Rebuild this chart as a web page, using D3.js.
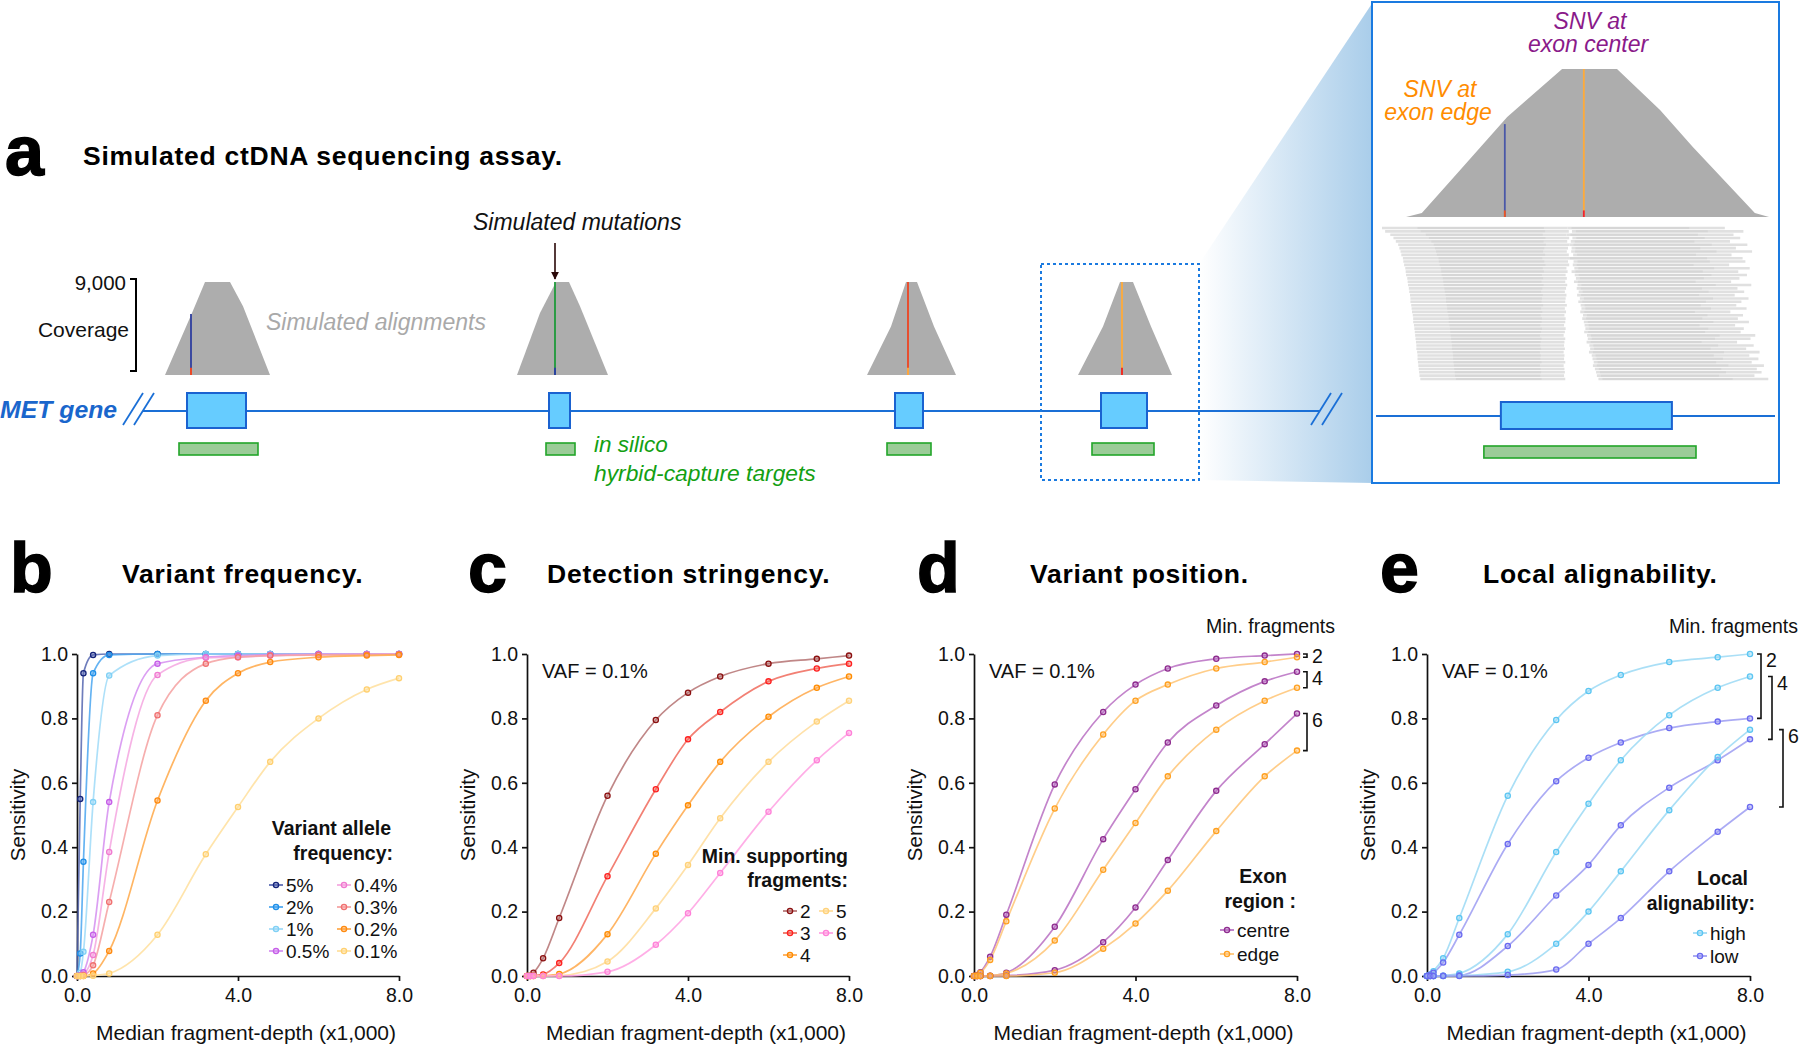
<!DOCTYPE html>
<html><head><meta charset="utf-8">
<script src="https://cdn.jsdelivr.net/npm/d3@7"></script>
<style>
body{margin:0;background:#fff;}
svg{display:block;font-family:"Liberation Sans",Arial,Helvetica,sans-serif;}
</style></head><body>
<svg id="fig" width="1800" height="1046"></svg>
<script>
// ---------------- DATA ----------------
const depthX = [0, 0.08, 0.16, 0.4, 0.8, 2.0, 3.2, 4.0, 4.8, 6.0, 7.2, 8.0];
const xTicks = [0, 4, 8];
const yTicks = [0, 0.2, 0.4, 0.6, 0.8, 1.0];

// panel b: variant allele frequency
const vafLabels = ["5%", "2%", "1%", "0.5%", "0.4%", "0.3%", "0.2%", "0.1%"];
const vaf5  = [0, 0.55, 0.94, 0.997, 1.0, 1.0, 1.0, 1.0, 1.0, 1.0, 1.0, 1.0];
const vaf2  = [0, 0.07, 0.355, 0.94, 0.997, 1.0, 1.0, 1.0, 1.0, 1.0, 1.0, 1.0];
const vaf1  = [0, 0.01, 0.075, 0.54, 0.933, 0.995, 1.0, 1.0, 1.0, 1.0, 1.0, 1.0];
const vaf05 = [0, 0.002, 0.012, 0.128, 0.54, 0.97, 0.99, 0.995, 0.998, 1.0, 1.0, 1.0];
const vaf04 = [0, 0.001, 0.005, 0.065, 0.385, 0.935, 0.988, 0.99, 0.995, 0.998, 0.999, 1.0];
const vaf03 = [0, 0, 0.002, 0.033, 0.23, 0.81, 0.97, 0.99, 0.995, 0.997, 0.998, 0.999];
const vaf02 = [0, 0, 0, 0.008, 0.078, 0.545, 0.855, 0.94, 0.975, 0.99, 0.995, 0.997];
const vaf01 = [0, 0, 0, 0.001, 0.008, 0.128, 0.378, 0.525, 0.665, 0.80, 0.89, 0.925];

// panel c: min supporting fragments
const fragLabels = ["2", "3", "4", "5", "6"];
const frag2 = [0, 0.001, 0.01, 0.055, 0.18, 0.56, 0.795, 0.88, 0.93, 0.97, 0.985, 0.995];
const frag3 = [0, 0, 0.001, 0.005, 0.04, 0.31, 0.58, 0.735, 0.82, 0.915, 0.955, 0.97];
const frag4 = [0, 0, 0, 0.001, 0.006, 0.13, 0.38, 0.53, 0.665, 0.805, 0.895, 0.93];
const frag5 = [0, 0, 0, 0, 0.001, 0.045, 0.21, 0.345, 0.49, 0.665, 0.79, 0.855];
const frag6 = [0, 0, 0, 0, 0, 0.013, 0.097, 0.195, 0.32, 0.51, 0.67, 0.755];

// panel d: exon region (centre / edge) for min fragments 2, 4, 6
const regionLabels = ["centre", "edge"];
const centre2 = [0, 0.003, 0.012, 0.06, 0.19, 0.595, 0.82, 0.905, 0.955, 0.985, 0.995, 1.0];
const edge2   = [0, 0.002, 0.01, 0.05, 0.17, 0.52, 0.75, 0.855, 0.905, 0.955, 0.975, 0.99];
const centre4 = [0, 0, 0, 0.001, 0.01, 0.153, 0.425, 0.58, 0.725, 0.84, 0.915, 0.945];
const edge4   = [0, 0, 0, 0.001, 0.008, 0.11, 0.33, 0.475, 0.62, 0.765, 0.855, 0.895];
const centre6 = [0, 0, 0, 0, 0.001, 0.018, 0.105, 0.213, 0.36, 0.575, 0.72, 0.815];
const edge6   = [0, 0, 0, 0, 0, 0.01, 0.085, 0.163, 0.265, 0.45, 0.62, 0.70];

// panel e: local alignability (high / low) for min fragments 2, 4, 6
const alignLabels = ["high", "low"];
const high2 = [0, 0.005, 0.015, 0.055, 0.18, 0.56, 0.795, 0.885, 0.935, 0.975, 0.99, 1.0];
const low2  = [0, 0.004, 0.01, 0.042, 0.128, 0.41, 0.605, 0.678, 0.725, 0.77, 0.79, 0.80];
const high4 = [0, 0, 0, 0.001, 0.008, 0.13, 0.385, 0.535, 0.67, 0.81, 0.895, 0.93];
const low4  = [0, 0, 0, 0.001, 0.002, 0.093, 0.25, 0.345, 0.468, 0.585, 0.67, 0.735];
const high6 = [0, 0, 0, 0, 0.001, 0.013, 0.1, 0.2, 0.325, 0.515, 0.68, 0.765];
const low6  = [0, 0, 0, 0, 0, 0.003, 0.02, 0.1, 0.18, 0.325, 0.448, 0.525];
const bracketLabels = ["2", "4", "6"];

// panel a: schematic (genomic units)
const geneSpan = [-7, 1170];
const exons   = [[37, 96], [399, 420], [745, 773], [951, 997]];
const targets = [[29, 108], [396, 425], [737, 781], [942, 1004]];
const peak1 = [[15, 0], [42, 6000], [55, 9000], [80, 9000], [93, 6650], [120, 0]];
const peak2 = [[367, 0], [390, 6000], [406, 9000], [419, 9000], [430, 6650], [458, 0]];
const peak3 = [[717, 0], [741, 4700], [756, 9000], [767, 9000], [784, 4700], [806, 0]];
const peak4 = [[928, 0], [953, 4700], [970, 9000], [983, 9000], [1001, 4700], [1022, 0]];
const mutPos   = [41, 405, 758, 972];
const mutDepth = [5900, 9000, 9000, 9000];
const mutColor = ["#2f3f9f", "#1f9a3a", "#ee4422", "#ffab3a"];
const mutTip   = ["#ff4a1a", "#2a3aa8", "#ffb040", "#ee2222"];
const coverageMax = 9000;

// inset (zoomed exon), units 0-100
const insetProfile = [[6.6, 0], [10.6, 240], [20.3, 2860], [32.2, 6080], [46.1, 9000], [60, 9000], [70.9, 6510], [79.2, 4260], [94.9, 240], [98.5, 0]];
const insetExon = [30.6, 73.9];
const insetTarget = [26.3, 80];
const insetGene = [-1, 100];
const insetMutPos = [31.6, 51.6];
const insetMutDepth = [5650, 9000];
const insetMutColor = ["#4a58a8", "#ffab3a"];
const insetMutTip = ["#ee5522", "#ee2233"];
const readStart = [0.5,1.3,2.6,3.4,4.0,4.6,4.9,5.2,5.4,5.8,5.9,6.1,6.4,6.5,6.6,6.9,7.0,7.1,7.3,7.4,7.6,7.7,7.7,7.9,8.0,8.1,8.3,8.4,8.4,8.6,8.7,8.8,8.9,9.0,9.1,9.2,9.2,9.4,9.5,9.5,9.6,9.7,9.8,9.9,10.0,10.2];
const readEnd = [87.3,92.0,89.5,91.2,88.6,93.0,90.1,94.2,89.0,91.8,92.5,88.4,93.6,90.7,92.9,91.0,88.9,94.0,90.5,92.2,89.8,93.3,91.5,90.2,92.8,88.7,91.9,90.6,93.4,89.9,92.1,91.3,95.0,93.8,90.4,94.6,92.7,96.1,93.5,95.8,94.1,97.2,95.4,96.6,94.8,98.3];
const gapStart = [47.5,47.8,47.2,47.9,47.4,48.0,47.6,47.3,47.8,47.1,47.6,47.9,47.2,47.5,47.0,47.3,46.9,47.4,47.1,46.8,47.2,47.0,46.9,47.3,46.8,47.1,46.7,47.0,46.9,46.6,47.0,46.8,46.5,46.9,46.7,46.6,46.8,46.5,46.7,46.6,46.9,46.5,46.7,46.8,46.6,46.9];
const gapEnd = [47.5,48.6,47.2,48.7,48.3,48.0,48.5,48.4,48.9,47.1,49.0,48.8,49.2,48.5,49.3,49.6,49.1,50.0,49.8,50.3,49.9,50.6,50.2,50.8,51.0,50.7,51.4,51.2,51.6,51.8,52.0,51.7,52.4,52.6,52.3,53.0,53.2,52.9,53.6,53.8,54.1,53.9,54.4,54.7,54.9,55.3];

// ---------------- DRAW ----------------
const svg = d3.select("#fig");
const FONT = '"Liberation Sans",Arial,Helvetica,sans-serif';

function txt(g, x, y, s, o = {}) {
  const t = g.append("text").attr("x", x).attr("y", y).text(s)
    .attr("font-size", o.size || 19).attr("fill", o.fill || "#111")
    .attr("text-anchor", o.anchor || "start");
  if (o.bold) t.attr("font-weight", "bold");
  if (o.italic) t.attr("font-style", "italic");
  if (o.ls) t.attr("letter-spacing", o.ls);
  if (o.heavy) t.attr("stroke", o.fill || "#000").attr("stroke-width", o.heavy);
  return t;
}

// ---- Panel a ----
const ga = svg.append("g");
const defs = svg.append("defs");
const grad = defs.append("linearGradient").attr("id", "zg").attr("x1", 0).attr("x2", 1).attr("y1", 0).attr("y2", 0);
grad.append("stop").attr("offset", 0).attr("stop-color", "#ffffff");
grad.append("stop").attr("offset", 1).attr("stop-color", "#a9cdea");
defs.append("marker").attr("id", "arr").attr("viewBox", "0 0 10 10").attr("refX", 9).attr("refY", 5)
  .attr("markerWidth", 5).attr("markerHeight", 5).attr("orient", "auto")
  .append("path").attr("d", "M0,0L10,5L0,10z").attr("fill", "#2a0808");

txt(ga, 5, 175, "a", {size: 70, bold: true, fill: "#000", heavy: 1.5});
txt(ga, 83, 165, "Simulated ctDNA sequencing assay.", {size: 26.5, bold: true, fill: "#000", ls: 0.75});

const aX = d3.scaleLinear().domain([0, 1170]).range([150, 1320]);
const covY = d3.scaleLinear().domain([0, coverageMax]).range([375, 282]);

// gradient zoom wedge
ga.append("path").attr("d", "M1199,264L1373,2L1373,483L1199,480Z").attr("fill", "url(#zg)");

// coverage bracket
ga.append("path").attr("d", `M130,${covY(coverageMax)-3}H136V${covY(0)-4}H130`).attr("fill", "none").attr("stroke", "#000").attr("stroke-width", 2);
txt(ga, 126, covY(coverageMax) + 8, "9,000", {size: 20.5, anchor: "end"});
txt(ga, 129, 337, "Coverage", {size: 21, anchor: "end"});

const area = d3.area().x(d => aX(d[0])).y0(covY(0)).y1(d => covY(d[1]));
[peak1, peak2, peak3, peak4].forEach(p => ga.append("path").attr("d", area(p)).attr("fill", "#adadad"));
mutPos.forEach((m, i) => {
  ga.append("line").attr("x1", aX(m)).attr("x2", aX(m)).attr("y1", covY(mutDepth[i])).attr("y2", covY(0))
    .attr("stroke", mutColor[i]).attr("stroke-width", 1.8);
  ga.append("line").attr("x1", aX(m)).attr("x2", aX(m)).attr("y1", covY(700)).attr("y2", covY(0))
    .attr("stroke", mutTip[i]).attr("stroke-width", 1.8);
});
txt(ga, 266, 330, "Simulated alignments", {size: 23, italic: true, fill: "#a9a9a9"});
txt(ga, 473, 230, "Simulated mutations", {size: 23, italic: true, fill: "#111"});
ga.append("line").attr("x1", aX(mutPos[1])).attr("x2", aX(mutPos[1])).attr("y1", 243).attr("y2", 279)
  .attr("stroke", "#2a0808").attr("stroke-width", 1.6).attr("marker-end", "url(#arr)");

// gene
const geneY = 411;
ga.append("line").attr("x1", aX(geneSpan[0])).attr("x2", aX(geneSpan[1])).attr("y1", geneY).attr("y2", geneY)
  .attr("stroke", "#1a6fd6").attr("stroke-width", 2);
[[123, 143], [134, 154], [1311, 1331], [1322, 1342]].forEach(s =>
  ga.append("line").attr("x1", s[0]).attr("y1", 425).attr("x2", s[1]).attr("y2", 393).attr("stroke", "#1a6fd6").attr("stroke-width", 1.8));
exons.forEach(e => ga.append("rect").attr("x", aX(e[0])).attr("y", 393).attr("width", aX(e[1]) - aX(e[0])).attr("height", 35)
  .attr("fill", "#66ccff").attr("stroke", "#1a62d0").attr("stroke-width", 2));
targets.forEach(e => ga.append("rect").attr("x", aX(e[0])).attr("y", 443).attr("width", aX(e[1]) - aX(e[0])).attr("height", 12)
  .attr("fill", "#9bcc98").attr("stroke", "#22a52a").attr("stroke-width", 1.6));
txt(ga, 0, 418, "MET gene", {size: 24.8, bold: true, italic: true, fill: "#1a66cc"});
txt(ga, 594, 452, "in silico", {size: 22.5, italic: true, fill: "#13a013"});
txt(ga, 594, 481, "hyrbid-capture targets", {size: 22.8, italic: true, fill: "#13a013"});

// dashed box
ga.append("rect").attr("x", 1041).attr("y", 264).attr("width", 158).attr("height", 216)
  .attr("fill", "none").attr("stroke", "#1a7ae0").attr("stroke-width", 2).attr("stroke-dasharray", "3,3");

// inset frame
ga.append("rect").attr("x", 1372).attr("y", 2).attr("width", 407).attr("height", 481)
  .attr("fill", "#fff").attr("stroke", "#1a7ae0").attr("stroke-width", 2);
const iX = d3.scaleLinear().domain([0, 100]).range([1380, 1775]);
const iY = d3.scaleLinear().domain([0, coverageMax]).range([217, 69]);
ga.append("path").attr("d", d3.area().x(d => iX(d[0])).y0(iY(0)).y1(d => iY(d[1]))(insetProfile)).attr("fill", "#adadad");
insetMutPos.forEach((m, i) => {
  ga.append("line").attr("x1", iX(m)).attr("x2", iX(m)).attr("y1", iY(insetMutDepth[i])).attr("y2", iY(0))
    .attr("stroke", insetMutColor[i]).attr("stroke-width", 1.8);
  ga.append("line").attr("x1", iX(m)).attr("x2", iX(m)).attr("y1", iY(400)).attr("y2", iY(0))
    .attr("stroke", insetMutTip[i]).attr("stroke-width", 1.8);
});
const rY = d3.scaleLinear().domain([0, readStart.length - 1]).range([228, 379]);
readStart.forEach((s, i) => {
  const segs = [[s, gapStart[i]], [gapEnd[i], readEnd[i]]];
  segs.forEach(sg => {
    if (sg[1] > sg[0]) ga.append("line").attr("x1", iX(sg[0])).attr("x2", iX(sg[1])).attr("y1", rY(i)).attr("y2", rY(i))
      .attr("stroke", "#e0e0e0").attr("stroke-width", 2.6);
  });
  // darker core of each read pair
  const core = [[s + 9, gapStart[i] - 6], [gapEnd[i] + 1, readEnd[i] - 9]];
  core.forEach(sg => {
    if (sg[1] > sg[0]) ga.append("line").attr("x1", iX(sg[0])).attr("x2", iX(sg[1])).attr("y1", rY(i)).attr("y2", rY(i))
      .attr("stroke", "#d6d6d6").attr("stroke-width", 2.0);
  });
});
ga.append("line").attr("x1", iX(insetGene[0])).attr("x2", iX(insetGene[1])).attr("y1", 416).attr("y2", 416)
  .attr("stroke", "#1a6fd6").attr("stroke-width", 2);
ga.append("rect").attr("x", iX(insetExon[0])).attr("y", 402).attr("width", iX(insetExon[1]) - iX(insetExon[0])).attr("height", 27)
  .attr("fill", "#66ccff").attr("stroke", "#1a62d0").attr("stroke-width", 2);
ga.append("rect").attr("x", iX(insetTarget[0])).attr("y", 446).attr("width", iX(insetTarget[1]) - iX(insetTarget[0])).attr("height", 12)
  .attr("fill", "#9bcc98").attr("stroke", "#22a52a").attr("stroke-width", 1.6);
txt(ga, 1590, 29, "SNV at", {size: 23, italic: true, fill: "#8a1a8a", anchor: "middle"});
txt(ga, 1588, 52, "exon center", {size: 23, italic: true, fill: "#8a1a8a", anchor: "middle"});
txt(ga, 1440, 97, "SNV at", {size: 23, italic: true, fill: "#ff8c00", anchor: "middle"});
txt(ga, 1438, 120, "exon edge", {size: 23, italic: true, fill: "#ff8c00", anchor: "middle"});

// ---- Panels b-e ----
const yS = d3.scaleLinear().domain([0, 1]).range([976, 654]);
const lineGen = (x) => d3.line().x((d, i) => x(depthX[i])).y(d => yS(d)).curve(d3.curveMonotoneX);

function drawPanel(p) {
  const g = svg.append("g");
  const x = d3.scaleLinear().domain([0, 8]).range([p.x0, p.x1]);
  txt(g, p.letterX, 592, p.letter, {size: 70, bold: true, fill: "#000", heavy: 1.5});
  txt(g, p.titleX, 583, p.title, {size: 26.5, bold: true, fill: "#000", ls: 0.75});
  const ya = g.append("g").attr("transform", `translate(${p.x0},0)`)
    .call(d3.axisLeft(yS).tickValues(yTicks).tickFormat(d3.format(".1f")).tickSize(5).tickSizeOuter(0).tickPadding(4));
  const xa = g.append("g").attr("transform", `translate(0,${yS(0)})`)
    .call(d3.axisBottom(x).tickValues(xTicks).tickFormat(d3.format(".1f")).tickSize(5).tickSizeOuter(0).tickPadding(7));
  [ya, xa].forEach(a => {
    a.selectAll("path,line").attr("stroke", "#111").attr("stroke-width", 1.7);
    a.selectAll("text").attr("font-size", 19.5).attr("fill", "#111").attr("font-family", FONT);
  });
  g.append("text").attr("transform", `translate(${p.x0 - 52},${(yS(0) + yS(1)) / 2}) rotate(-90)`)
    .attr("text-anchor", "middle").attr("font-size", 20.5).attr("fill", "#111").text("Sensitivity");
  txt(g, (p.x0 + p.x1) / 2 + 8, 1040, "Median fragment-depth (x1,000)", {size: 21, anchor: "middle"});
  if (p.vaf) txt(g, p.x0 + 15, 678, "VAF = 0.1%", {size: 20});
  const lg = lineGen(x);
  p.series.forEach(s => {
    g.append("path").attr("d", lg(s.v)).attr("fill", "none").attr("stroke", s.ln).attr("stroke-width", 1.7).attr("stroke-opacity", 0.85);
  });
  p.series.forEach(s => {
    g.selectAll(null).data(s.v).enter().append("circle")
      .attr("cx", (d, i) => x(depthX[i])).attr("cy", d => yS(d)).attr("r", 2.6)
      .attr("fill", s.ln).attr("fill-opacity", 0.5).attr("stroke", s.pt).attr("stroke-width", 1.3);
  });
  // legend
  p.legTitle.forEach((t, i) => txt(g, t[1], t[2], t[0], {size: 19.5, bold: true, anchor: "end"}));
  p.legItems.forEach(it => {
    g.append("line").attr("x1", it.x).attr("x2", it.x + 14).attr("y1", it.y - 7).attr("y2", it.y - 7).attr("stroke", it.ln).attr("stroke-width", 1.7);
    g.append("circle").attr("cx", it.x + 7).attr("cy", it.y - 7).attr("r", 2.6).attr("fill", it.ln).attr("fill-opacity", 0.5).attr("stroke", it.pt).attr("stroke-width", 1.3);
    txt(g, it.x + 17, it.y, it.label, {size: 19});
  });
  if (p.brackets) {
    txt(g, p.minFragX, 633, "Min. fragments", {size: 19.5, anchor: "end"});
    p.brackets.forEach((b, i) => {
      const yt = yS(b.top), yb = yS(b.bot);
      g.append("path").attr("d", `M${b.x - 4},${yt}H${b.x}V${yb}H${b.x - 4}`).attr("fill", "none").attr("stroke", "#111").attr("stroke-width", 1.6);
      txt(g, b.x + 5, Math.min(yt + 13, (yt + yb) / 2 + 7), bracketLabels[i], {size: 19.5});
    });
  }
}

const bCols = [
  {v: vaf5, pt: "#14237a", ln: "#5566b0"}, {v: vaf2, pt: "#1e8fe8", ln: "#4aa6f0"},
  {v: vaf1, pt: "#7fd0f5", ln: "#9fdaf8"}, {v: vaf05, pt: "#c65de8", ln: "#d58ef0"},
  {v: vaf04, pt: "#f07ad0", ln: "#f5a6e0"}, {v: vaf03, pt: "#f07070", ln: "#f5a0a0"},
  {v: vaf02, pt: "#ff8a10", ln: "#ffa848"}, {v: vaf01, pt: "#ffd070", ln: "#ffdf9c"}];
const bLeg = bCols.map((s, i) => ({label: vafLabels[i], pt: s.pt, ln: s.ln, x: i < 4 ? 269 : 337, y: 892 + (i % 4) * 22}));
drawPanel({x0: 77, x1: 399, letter: "b", letterX: 10, title: "Variant frequency.", titleX: 122, series: bCols,
  legTitle: [["Variant allele", 391, 835], ["frequency:", 393, 860]], legItems: bLeg});

const cCols = [
  {v: frag2, pt: "#8b1010", ln: "#b57272"}, {v: frag3, pt: "#ff2020", ln: "#f06a5c"},
  {v: frag4, pt: "#ff8c00", ln: "#ffa84a"}, {v: frag5, pt: "#ffd27a", ln: "#ffdc9a"},
  {v: frag6, pt: "#ff80d8", ln: "#ffa0e2"}];
const cLeg = cCols.map((s, i) => ({label: fragLabels[i], pt: s.pt, ln: s.ln, x: i < 3 ? 783 : 819, y: 918 + (i % 3) * 22}));
drawPanel({x0: 527, x1: 849, letter: "c", letterX: 468, title: "Detection stringency.", titleX: 547, series: cCols, vaf: true,
  legTitle: [["Min. supporting", 848, 863], ["fragments:", 848, 887]], legItems: cLeg});

const dC = {pt: "#8e2c8e", ln: "#b86ec2"}, dE = {pt: "#ffa020", ln: "#ffc474"};
const dCols = [
  {v: centre2, ...dC}, {v: edge2, ...dE}, {v: centre4, ...dC}, {v: edge4, ...dE}, {v: centre6, ...dC}, {v: edge6, ...dE}];
drawPanel({x0: 974, x1: 1297, letter: "d", letterX: 917, title: "Variant position.", titleX: 1030, series: dCols, vaf: true,
  legTitle: [["Exon", 1287, 883], ["region :", 1296, 908]],
  legItems: [{label: regionLabels[0], ...dC, x: 1220, y: 937}, {label: regionLabels[1], ...dE, x: 1220, y: 961}],
  minFragX: 1335,
  brackets: [{x: 1307, top: centre2[11], bot: edge2[11]}, {x: 1307, top: centre4[11], bot: edge4[11]}, {x: 1307, top: centre6[11], bot: edge6[11]}]});

const eH = {pt: "#5cc6f2", ln: "#9bd9f5"}, eL = {pt: "#6a6af0", ln: "#9c9cf2"};
const eCols = [
  {v: high2, ...eH}, {v: low2, ...eL}, {v: high4, ...eH}, {v: low4, ...eL}, {v: high6, ...eH}, {v: low6, ...eL}];
drawPanel({x0: 1427, x1: 1750, letter: "e", letterX: 1380, title: "Local alignability.", titleX: 1483, series: eCols, vaf: true,
  legTitle: [["Local", 1748, 885], ["alignability:", 1755, 910]],
  legItems: [{label: alignLabels[0], ...eH, x: 1693, y: 940}, {label: alignLabels[1], ...eL, x: 1693, y: 963}],
  minFragX: 1798,
  brackets: [{x: 1761, top: high2[11], bot: low2[11]}, {x: 1772, top: high4[11], bot: low4[11]}, {x: 1783, top: high6[11], bot: low6[11]}]});
</script>
</body></html>
